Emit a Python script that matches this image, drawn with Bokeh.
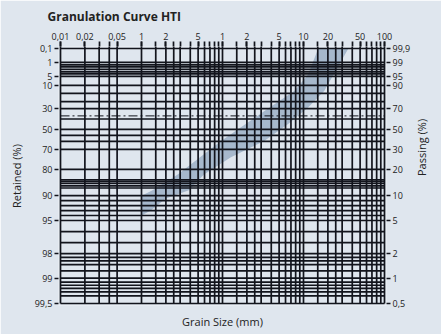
import numpy as np
from bokeh.plotting import figure
from bokeh.models import Range1d, LogAxis, LinearAxis, FixedTicker
from bokeh.embed import file_html
from bokeh.resources import INLINE

# ---------------- data ----------------
x_labels_vals = [0.01, 0.02, 0.05, 0.1, 0.2, 0.5, 1, 2, 5, 10, 20, 50, 100]
x_labels_text = ["0,01", "0,02", "0,05", "1", "2", "5", "1", "2", "5", "10", "20", "50", "100"]
x_grid = [0.01, 0.02, 0.03, 0.04, 0.05,
          0.1, 0.15, 0.2, 0.25, 0.3, 0.4, 0.5, 0.6, 0.7, 0.8, 0.9,
          1, 1.5, 2, 2.5, 3, 4, 5, 6, 7, 8, 9,
          10, 15, 20, 25, 30, 40, 50, 60, 70, 80, 90, 100]

retained_major = [0.1, 1, 5, 10, 30, 50, 70, 80, 90, 95, 98, 99, 99.5]
retained_labels = ["0,1", "1", "5", "10", "30", "50", "70", "80", "90", "95", "98", "99", "99,5"]
passing_labels = ["99,9", "99", "95", "90", "70", "50", "30", "20", "10", "5", "2", "1", "0,5"]
retained_minor = [1.7, 2.3, 3, 3.7, 4.3, 17, 24, 40, 56, 62,
                  84, 84.7, 85.4, 86.3, 87.1, 91, 92, 93, 94, 96, 97,
                  98.15, 98.3, 98.45, 98.7, 99.08, 99.14, 99.2, 99.27, 99.35]
reference_line = 37  # dash-dot line, % retained

# band (grain size mm, % retained)
band_upper_mm = [15.2, 11.4, 7.7, 3.77, 0.96, 0.28, 0.137, 0.1]
band_upper_ret = [0.1, 4.5, 15, 29.3, 61.6, 82, 88, 90]
band_lower_mm = [0.1, 0.13, 0.2, 0.385, 0.59, 1.27, 3.27, 6.4, 11.4, 18, 35.8]
band_lower_ret = [94, 93, 90.6, 88, 82, 74, 61.6, 45, 29, 15, 0.1]

# ---------------- probability-paper scale of the sheet ----------------
SCALE_RET = [0.1, 1, 5, 10, 30, 50, 70, 80, 90, 95, 98, 99, 99.5]
SCALE_POS = [0, 14, 28, 37, 60.5, 81.3, 101.5, 121.5, 148, 173, 206.3, 231, 256.5]


def ypos(p):
    return np.interp(p, SCALE_RET, SCALE_POS)


PAD = 2.0
DEC = 81.0
x0 = 10 ** (-2 - PAD / DEC)
x1 = 10 ** (2 + PAD / DEC)
ytop, ybot = -PAD, SCALE_POS[-1] + PAD

BG = "#dfe6ee"
INK = "#12141c"
BAND = "#a6b8cc"
FONT = "Open Sans"
LW = 1.7

p = figure(width=441, height=334, x_axis_type="log",
           x_range=Range1d(x0, x1), y_range=Range1d(ybot, ytop),
           x_axis_location=None, y_axis_location=None,
           output_backend="svg", toolbar_location=None,
           min_border_left=58, min_border_right=55, min_border_top=45, min_border_bottom=29)
p.background_fill_color = BG
p.border_fill_color = BG
p.outline_line_color = None
p.xgrid.visible = False
p.ygrid.visible = False

# band
bx = list(band_upper_mm) + list(band_lower_mm)
by = list(ypos(band_upper_ret)) + list(ypos(band_lower_ret))
p.patch(bx, by, fill_color=BAND, line_color=None)

# vertical grid
vx = list(x_grid)
p.segment(x0=vx, y0=[ypos(99.5)] * len(vx), x1=vx, y1=[ytop] * len(vx),
          line_color=INK, line_width=LW)
# horizontal grid
hy_all = list(ypos(retained_major)) + list(ypos(retained_minor))
p.segment(x0=[0.01] * len(hy_all), y0=hy_all, x1=[100] * len(hy_all), y1=hy_all,
          line_color=INK, line_width=LW)
# dash-dot line
p.line([0.01, 100], [ypos(reference_line)] * 2, line_color=INK, line_width=1,
       line_dash="9 3 2 3")

# title
p.title.text = "Granulation Curve HTI"
p.title.text_font = FONT
p.title.text_font_size = "12px"
p.title.text_font_style = "bold"
p.title.text_color = "#222"
p.title.offset = -11

# axes
label_font_size = "9px"

top = LogAxis(ticker=FixedTicker(ticks=x_labels_vals, minor_ticks=x_grid))
top.major_label_overrides = {v: t for v, t in zip(x_labels_vals, x_labels_text)}
top.axis_line_color = None
top.major_tick_out = 5
top.major_tick_in = 0
top.minor_tick_out = 5
top.minor_tick_in = 0
top.major_tick_line_color = INK
top.minor_tick_line_color = INK
top.major_tick_line_width = LW
top.minor_tick_line_width = LW
top.major_label_standoff = 2
top.major_label_text_font = FONT
top.major_label_text_font_size = label_font_size
top.major_label_text_color = "#222"
p.add_layout(top, "above")

bottom = LogAxis(ticker=FixedTicker(ticks=[]))
bottom.axis_line_color = None
bottom.major_tick_out = 0
bottom.minor_tick_out = 0
bottom.major_label_text_font_size = "0px"
bottom.axis_label = "Grain Size (mm)"
bottom.axis_label_text_font = FONT
bottom.axis_label_text_font_size = "11px"
bottom.axis_label_text_font_style = "normal"
bottom.axis_label_text_color = "#222"
bottom.axis_label_standoff = 8
p.add_layout(bottom, "below")

ymaj = [float(v) for v in ypos(retained_major)]
left = LinearAxis(ticker=FixedTicker(ticks=ymaj))
left.major_label_overrides = {v: t for v, t in zip(ymaj, retained_labels)}
right = LinearAxis(ticker=FixedTicker(ticks=ymaj))
right.major_label_overrides = {v: t for v, t in zip(ymaj, passing_labels)}
for ax, lab in ((left, "Retained (%)"), (right, "Passing (%)")):
    ax.axis_line_color = None
    ax.major_tick_out = 4
    ax.major_tick_in = 0
    ax.minor_tick_out = 0
    ax.major_tick_line_color = INK
    ax.major_tick_line_width = LW
    ax.major_label_standoff = 2
    ax.major_label_text_font = FONT
    ax.major_label_text_font_size = label_font_size
    ax.major_label_text_color = "#222"
    ax.axis_label = lab
    ax.axis_label_text_font = FONT
    ax.axis_label_text_font_size = "11px"
    ax.axis_label_text_font_style = "normal"
    ax.axis_label_text_color = "#222"
    ax.axis_label_standoff = 8
right.axis_label_orientation = float(np.pi / 2)
p.add_layout(left, "left")
p.add_layout(right, "right")

open("out.html", "w").write(file_html(p, INLINE))
